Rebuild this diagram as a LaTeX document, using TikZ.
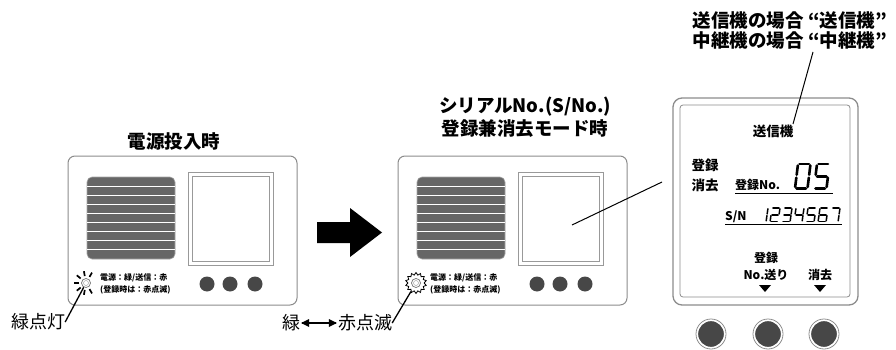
\documentclass[tikz,border=0pt]{standalone}
\usepackage{fontspec}
\setmainfont{Noto Sans CJK JP}
\usetikzlibrary{shapes.geometric,calc}

\tikzset{
  casing/.style={draw=black!45, line width=1pt, rounded corners=7pt, fill=white},
  grille/.style={fill=black!60, draw=black!35, line width=0.6pt, rounded corners=5pt},
  slot/.style={draw=white, line width=0.9pt},
  panel/.style={draw=black!40, line width=0.8pt},
  knob/.style={circle, fill=black!72, minimum size=15pt, inner sep=0pt},
  ledcap/.style={font=\bfseries\fontsize{8}{9}\selectfont, anchor=west, inner sep=0pt},
  heading/.style={font=\bfseries\fontsize{18.5}{23}\selectfont, align=center, inner sep=0pt},
  tag/.style={font=\fontsize{18}{20}\selectfont, inner sep=0pt},
  lead/.style={draw=black, line width=1.3pt},
  lcd/.style={font=\bfseries\fontsize{12}{14}\selectfont, inner sep=0pt},
  lcdbig/.style={font=\bfseries\fontsize{13.5}{15}\selectfont, inner sep=0pt},
  rule/.style={draw=black, line width=1.6pt},
  button/.style={circle, fill=black!72, draw=white, line width=1.2pt, minimum size=27pt, inner sep=0pt},
  buttonring/.style={circle, draw=black!45, line width=0.8pt, minimum size=30pt, inner sep=0pt},
  seg a/.style={insert path={(1.2,0)--(8.8,0)}},
  seg b/.style={insert path={(10,1.2)--(10,8.8)}},
  seg c/.style={insert path={(10,11.2)--(10,18.8)}},
  seg d/.style={insert path={(1.2,20)--(8.8,20)}},
  seg e/.style={insert path={(0,11.2)--(0,18.8)}},
  seg f/.style={insert path={(0,1.2)--(0,8.8)}},
  seg g/.style={insert path={(1.2,10)--(8.8,10)}},
  sevenseg/.pic={
    \foreach \s in {#1} { \draw[line cap=round, seg \s]; }
  },
  unit/.pic={
    \draw[casing] (0,0) rectangle (229,149);
    \draw[grille] (19,21) rectangle (107,103);
    \foreach \k in {1,...,8} { \draw[slot] (19,{21+\k*9.1}) -- (107,{21+\k*9.1}); }
    \draw[panel] (120,16) rectangle (205,109);
    \draw[panel] (124,20) rectangle (201,105);
    \node[knob] (-k1) at (139,128) {};
    \node[knob] (-k2) at (162,128) {};
    \node[knob] (-k3) at (187,128) {};
    \node[ledcap] (-cap1) at (32,122) {電源：緑/送信：赤};
    \node[ledcap] (-cap2) at (32,134) {(登録時は：赤点滅)};
    \coordinate (-led) at (18,127);
    \coordinate (-scr) at (174,69);
  }
}

\begin{document}
\begin{tikzpicture}[x=1pt,y=-1pt]
\useasboundingbox (0,0) rectangle (896,350);

% ---- power-on state ----
\node[heading] (t1) at (174,141) {電源投入時};
\pic (L) at (68,156) {unit};
\foreach \a in {60,100,140,180,220,260,300}
  \draw[line width=1.7pt] ($(L-led)+(\a:7)$) -- ($(L-led)+(\a:12)$);
\node[circle, draw=black!55, fill=white, line width=0.7pt, minimum size=9pt, inner sep=0pt] (Lbulb) at (L-led) {};
\node[circle, draw=black!40, minimum size=5pt, inner sep=0pt] at (L-led) {};
\node[tag] (g1) at (38,322) {緑点灯};
\draw[lead] (g1.east) -- (Lbulb);

% ---- transition arrow ----
\fill[black] (317,222) -- (350,222) -- (350,208) -- (382,232.5) -- (350,257)
  -- (350,243) -- (317,243) -- cycle;

% ---- registration / erase mode ----
\node[heading] (t2) at (525,117) {シリアルNo.(S/No.)\\登録兼消去モード時};
\pic (M) at (398,156) {unit};
\node[star, star points=14, star point ratio=1.3, minimum size=21pt, inner sep=0pt,
      draw=black, fill=white, line width=0.8pt] (Mstar) at (M-led) {};
\node[circle, draw=black!55, line width=0.7pt, minimum size=9pt, inner sep=0pt] (Mbulb) at (M-led) {};
\node[circle, draw=black!40, minimum size=5pt, inner sep=0pt] at (M-led) {};
\node[tag] (g2) at (291,323) {緑};
\node[tag] (r2) at (365,323) {赤点滅};
\draw[line width=1.5pt] (g2.east) ++(2,0) coordinate (ga) -- ($(r2.west)+(-2,0)$) coordinate (gb);
\fill (ga) ++(-1,0) -- ++(8,-4) -- ++(0,8) -- cycle;
\fill (gb) ++(1,0) -- ++(-8,-4) -- ++(0,8) -- cycle;
\draw[lead] (r2.east) -- (Mstar);

% ---- enlarged display ----
\draw[draw=black!45, line width=1.3pt, rounded corners=9pt] (673,98) rectangle (858,305);
\draw[draw=black!45, line width=0.8pt, rounded corners=3pt] (680,105) rectangle (850,297);
\coordinate (scrtip) at (662,182);
\draw[line width=1pt] (M-scr) -- (scrtip);

\node[lcdbig] (kind) at (773,131) {送信機};
\node[lcdbig] (mode1) at (705,165) {登録};
\node[lcdbig] (mode2) at (705,185) {消去};
\node[lcd, anchor=base west] (regno) at (735,189) {登録No.};
\pic[line width=2.6pt, xscale=1.25, yscale=1.22, xslant=0.12] at (798,164) {sevenseg={a,b,c,d,e,f}};
\pic[line width=2.6pt, xscale=1.25, yscale=1.22, xslant=0.12] at (817,164) {sevenseg={a,f,g,c,d}};
\draw[rule] (735,193.5) -- (833,193.5);
\node[lcd, anchor=base west] (sn) at (725,220) {S/N};
\foreach \d/\segs [count=\i from 0] in {1/{b,c},2/{a,b,g,e,d},3/{a,b,g,c,d},4/{f,g,b,c},5/{a,f,g,c,d},6/{a,f,g,e,c,d},7/{a,b,c}}
  \pic[line width=1.5pt, xscale=0.8, yscale=0.68, xslant=0.12] at ({760+\i*12},208) {sevenseg/.expanded=\segs};
\draw[rule] (725,224.5) -- (842,224.5);

\node[lcd] (fwd1) at (766,258) {登録};
\node[lcd] (fwd2) at (766,275) {No.送り};
\node[lcd] (del) at (820,275) {消去};
\fill (759,285) -- (771,285) -- (765,292) -- cycle;
\fill (814,285) -- (826,285) -- (820,292) -- cycle;

\foreach \n/\x in {b1/711,b2/768,b3/824} {
  \node[buttonring] at (\x,334) {};
  \node[button] (\n) at (\x,334) {};
}

% ---- device-type note ----
\node[font=\bfseries\fontsize{18.5}{20}\selectfont, align=center, inner sep=0pt] (note) at (790,30)
  {送信機の場合 “送信機”\\中継機の場合 “中継機”};
\coordinate (notetip) at (793,124);
\draw[line width=1pt] (813,52) coordinate (notefoot) -- (notetip);

\end{tikzpicture}
\end{document}
